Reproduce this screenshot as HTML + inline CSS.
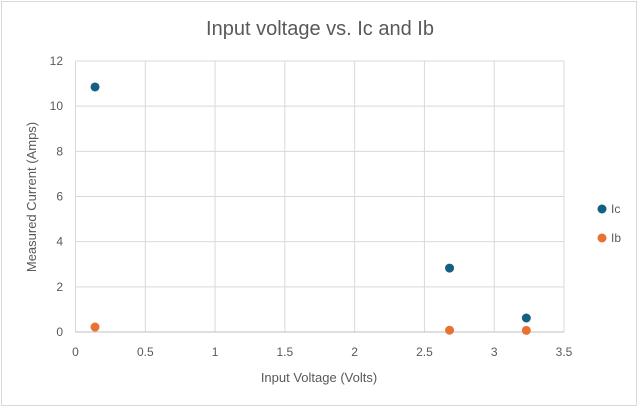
<!DOCTYPE html>
<html><head><meta charset="utf-8"><style>
body{margin:0;background:#fff;font-family:"Liberation Sans",sans-serif;}
svg text{font-family:"Liberation Sans",sans-serif;fill:#595959;}
</style></head><body>
<svg width="639" height="409" xmlns="http://www.w3.org/2000/svg">
<rect x="1.5" y="1.5" width="635" height="404" fill="#fff" stroke="#d9d9d9"/>
<text x="320" y="35" text-anchor="middle" font-size="20">Input voltage vs. Ic and Ib</text>
<g id="grid"></g><g id="marks"></g>
<text x="319" y="382" text-anchor="middle" font-size="13">Input Voltage (Volts)</text>
<text transform="translate(36,197) rotate(-90)" text-anchor="middle" font-size="13">Measured Current (Amps)</text>
<g>
<circle cx="602" cy="209" r="4.5" fill="#156082"/>
<text x="611" y="213" font-size="12">Ic</text>
<circle cx="602" cy="238" r="4.5" fill="#e97132"/>
<text x="611" y="242" font-size="12">Ib</text>
</g>
</svg>
<script>
const xTicks=[0,0.5,1,1.5,2,2.5,3,3.5];
const yTicks=[0,2,4,6,8,10,12];
const voltage=[0.14,2.68,3.23];
const icValues=[10.85,2.83,0.62];
const ibValues=[0.22,0.08,0.07];
const NS="http://www.w3.org/2000/svg";
const X=v=>75.5+v*(564-75.5)/3.5;
const Y=v=>332-v*(332-61)/12;
const g=document.getElementById('grid'),m=document.getElementById('marks');
function mk(t,a,p){const e=document.createElementNS(NS,t);for(const k in a)e.setAttribute(k,a[k]);p.appendChild(e);return e;}
xTicks.forEach(t=>{
 const l=mk('line',{x1:X(t),x2:X(t),y1:Y(12),y2:Y(0),stroke:'#d9d9d9'},g);
 
 
 const tx=mk('text',{x:X(t),y:356,'text-anchor':'middle','font-size':'12'},g);tx.textContent=t;
 
 
});
yTicks.forEach(t=>{
 const l=mk('line',{x1:X(0),x2:X(3.5),y1:Y(t),y2:Y(t),stroke:t===0?'#bfbfbf':'#d9d9d9'},g);
 
 
 const tx=mk('text',{x:63,y:Y(t)+4,'text-anchor':'end','font-size':'12'},g);tx.textContent=t;
 
 
});
voltage.forEach((v,i)=>{
 const a=mk('circle',{cx:X(v),cy:Y(icValues[i]),r:4.5,fill:'#156082'},m);
 
 
 const b=mk('circle',{cx:X(v),cy:Y(ibValues[i]),r:4.5,fill:'#e97132'},m);
 
 
});
</script>
</body></html>
